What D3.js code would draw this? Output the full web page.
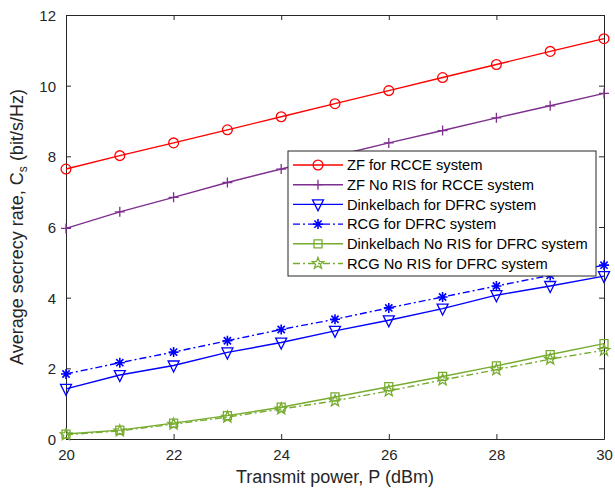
<!DOCTYPE html>
<html>
<head>
<meta charset="utf-8">
<script src="https://cdn.jsdelivr.net/npm/d3@7"></script>
<style>
  body { margin: 0; background: #fff; }
  svg { display: block; font-family: "Liberation Sans", Arial, Helvetica, sans-serif; }
</style>
</head>
<body>
<div id="chart"></div>
<script>
// transmit power (dBm)
var power = [20, 21, 22, 23, 24, 25, 26, 27, 28, 29, 30];

var zfRcce        = [7.64, 8.02, 8.38, 8.75, 9.12, 9.49, 9.86, 10.23, 10.60, 10.97, 11.33];
var zfNoRisRcce   = [5.96, 6.43, 6.84, 7.26, 7.64, 8.01, 8.38, 8.73, 9.09, 9.43, 9.78];
var dinkelDfrc    = [1.42, 1.81, 2.08, 2.45, 2.73, 3.06, 3.36, 3.69, 4.07, 4.33, 4.61];
var rcgDfrc       = [1.84, 2.16, 2.46, 2.78, 3.10, 3.39, 3.71, 4.02, 4.33, 4.63, 4.92];
var dinkelNoRis   = [0.14, 0.25, 0.45, 0.66, 0.90, 1.19, 1.48, 1.77, 2.07, 2.39, 2.70];
var rcgNoRis      = [0.12, 0.23, 0.42, 0.62, 0.85, 1.08, 1.36, 1.67, 1.96, 2.26, 2.51];

var xTicks = [20, 22, 24, 26, 28, 30];
var yTicks = [0, 2, 4, 6, 8, 10, 12];

var seriesNames = [
  "ZF for RCCE system",
  "ZF No RIS for RCCE system",
  "Dinkelbach for DFRC system",
  "RCG for DFRC system",
  "Dinkelbach No RIS for DFRC system",
  "RCG No RIS for DFRC system"
];
var seriesValues = [zfRcce, zfNoRisRcce, dinkelDfrc, rcgDfrc, dinkelNoRis, rcgNoRis];
var seriesColors = ["#ff0000", "#7e2f8e", "#0000ff", "#0000ff", "#77ac30", "#77ac30"];
var seriesMarkers = ["circle", "plus", "triangle", "asterisk", "square", "pentagram"];
var seriesDash = [null, null, null, "7,3,2,3", null, "7,3,2,3"];

var width = 615, height = 489;
var margin = { top: 15, right: 11, bottom: 50, left: 66 };
var axisColor = "#262626";

var svg = d3.select("#chart").append("svg")
    .attr("width", width)
    .attr("height", height);

var x = d3.scaleLinear().domain([20, 30]).range([margin.left, width - margin.right]);
var y = d3.scaleLinear().domain([0, 12]).range([height - margin.bottom, margin.top]);

// axes with inside ticks on all four sides
var xAxis = d3.axisBottom(x).tickValues(xTicks).tickSizeInner(-5).tickSizeOuter(0).tickPadding(10);
var yAxis = d3.axisLeft(y).tickValues(yTicks).tickSizeInner(-5).tickSizeOuter(0).tickPadding(10);

var gx = svg.append("g")
    .attr("transform", "translate(0," + y(0) + ")")
    .call(xAxis);
var gy = svg.append("g")
    .attr("transform", "translate(" + x(20) + ",0)")
    .call(yAxis);
svg.append("g")
    .attr("transform", "translate(0," + y(12) + ")")
    .call(d3.axisTop(x).tickValues(xTicks).tickSizeInner(-5).tickSizeOuter(0).tickFormat(""));
svg.append("g")
    .attr("transform", "translate(" + x(30) + ",0)")
    .call(d3.axisRight(y).tickValues(yTicks).tickSizeInner(-5).tickSizeOuter(0).tickFormat(""));

svg.selectAll(".domain").attr("stroke", axisColor).attr("stroke-width", 1);
svg.selectAll(".tick line").attr("stroke", axisColor).attr("stroke-width", 1);
svg.selectAll(".tick text")
    .attr("fill", axisColor)
    .style("font-size", "15px");
gy.selectAll(".tick text").attr("dy", "0.36em");

// axis labels
svg.append("text")
    .attr("x", (x(20) + x(30)) / 2)
    .attr("y", 483)
    .attr("text-anchor", "middle")
    .attr("fill", axisColor)
    .style("font-size", "18px")
    .text("Transmit power, P (dBm)");

var yl = svg.append("text")
    .attr("transform", "translate(23," + (y(0) + y(12)) / 2 + ") rotate(-90)")
    .attr("text-anchor", "middle")
    .attr("fill", axisColor)
    .style("font-size", "18px");
yl.append("tspan").text("Average secrecy rate, C");
yl.append("tspan").attr("dy", 4).style("font-size", "12px").text("s");
yl.append("tspan").attr("dy", -4).text(" (bit/s/Hz)");

// marker shapes
function markerPath(type) {
  switch (type) {
    case "circle": return d3.symbol(d3.symbolCircle, 75)();
    case "plus": return "M-5,0L5,0M0,-5L0,5";
    case "triangle": return "M-5.5,-4.5L5.5,-4.5L0,6.5Z";
    case "asterisk": return "M-5,0L5,0M0,-5L0,5M-3.6,-3.6L3.6,3.6M3.6,-3.6L-3.6,3.6";
    case "square": return "M-4,-4L4,-4L4,4L-4,4Z";
    case "pentagram":
      var pts = [];
      for (var i = 0; i < 10; i++) {
        var r = i % 2 === 0 ? 6 : 2.5;
        var a = -Math.PI / 2 + i * Math.PI / 5;
        pts.push([r * Math.cos(a), r * Math.sin(a)]);
      }
      return "M" + pts.map(function (p) { return p[0].toFixed(2) + "," + p[1].toFixed(2); }).join("L") + "Z";
  }
}

function drawMarker(sel, type, color) {
  sel.append("path")
    .attr("d", markerPath(type))
    .attr("fill", "none")
    .attr("stroke", color)
    .attr("stroke-width", type === "asterisk" ? 1.6 : 1.3);
}

var line = d3.line()
    .x(function (d) { return x(d.p); })
    .y(function (d) { return y(d.v); });

var plot = svg.append("g");
seriesValues.forEach(function (vals, k) {
  var data = power.map(function (p, i) { return { p: p, v: vals[i] }; });
  plot.append("path")
    .datum(data)
    .attr("d", line)
    .attr("fill", "none")
    .attr("stroke", seriesColors[k])
    .attr("stroke-width", 1.4)
    .attr("stroke-dasharray", seriesDash[k]);
  plot.selectAll(".m" + k)
    .data(data)
    .enter()
    .append("g")
    .attr("class", "m" + k)
    .attr("transform", function (d) { return "translate(" + x(d.p) + "," + y(d.v) + ")"; })
    .each(function () { drawMarker(d3.select(this), seriesMarkers[k], seriesColors[k]); });
});

// legend
var legend = svg.append("g").attr("transform", "translate(288,151)");
legend.append("rect")
    .attr("width", 308)
    .attr("height", 125)
    .attr("fill", "#fff")
    .attr("stroke", axisColor)
    .attr("stroke-width", 1);

seriesNames.forEach(function (name, k) {
  var row = legend.append("g").attr("transform", "translate(0," + (14 + k * 19.7) + ")");
  row.append("line")
    .attr("x1", 5).attr("x2", 55)
    .attr("stroke", seriesColors[k])
    .attr("stroke-width", 1.4)
    .attr("stroke-dasharray", seriesDash[k]);
  var m = row.append("g").attr("transform", "translate(30,0)");
  drawMarker(m, seriesMarkers[k], seriesColors[k]);
  row.append("text")
    .attr("x", 59)
    .attr("dy", "0.36em")
    .attr("fill", "#000")
    .style("font-size", "14.7px")
    .text(name);
});
</script>
</body>
</html>
